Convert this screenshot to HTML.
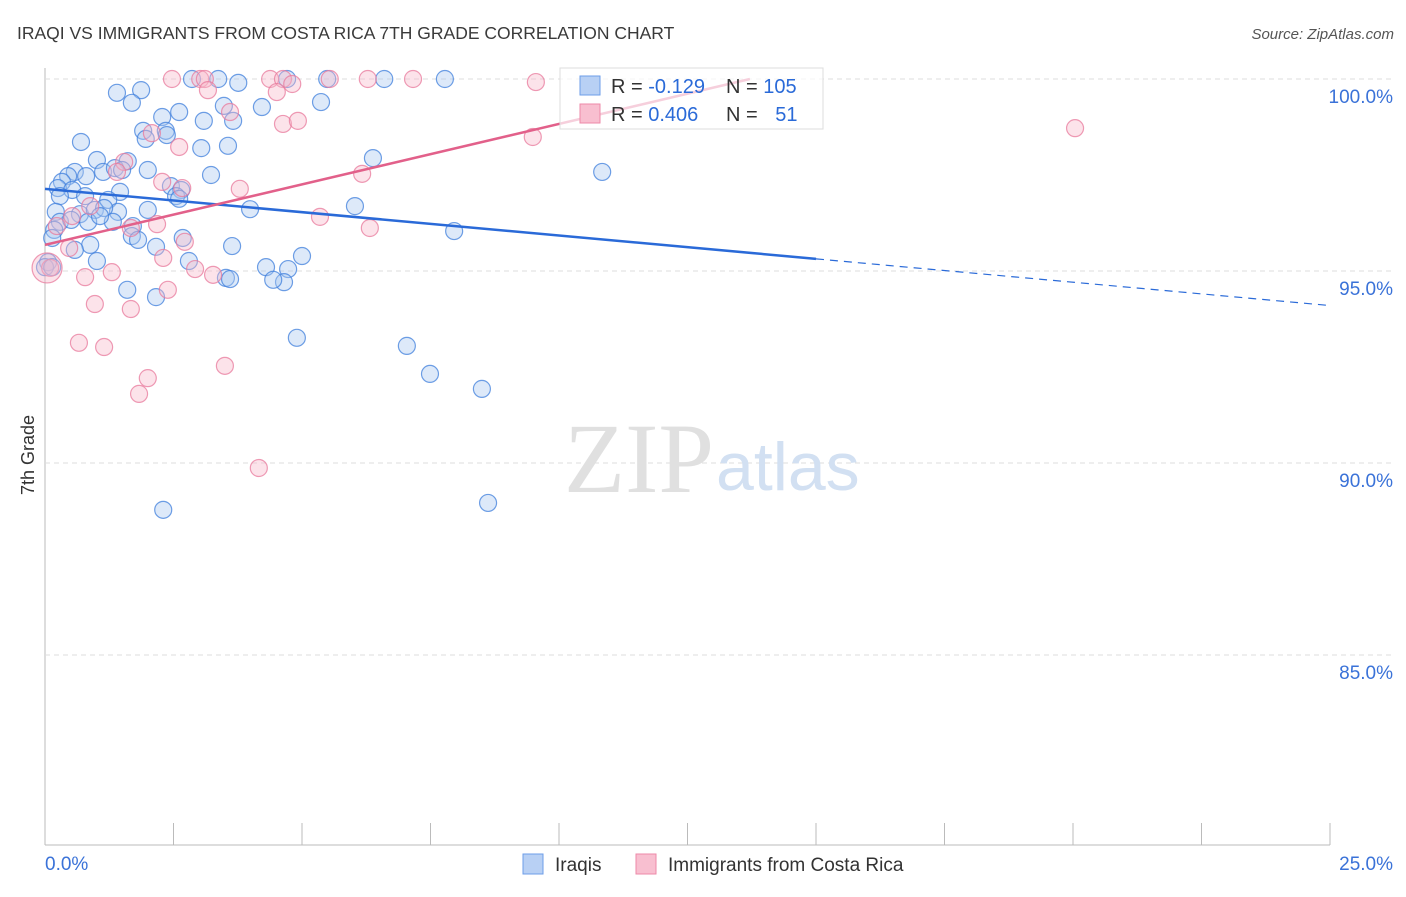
<!DOCTYPE html>
<html><head><meta charset="utf-8"><style>
body{margin:0;background:#fff;font-family:"Liberation Sans",sans-serif}
svg text{font-family:"Liberation Sans",sans-serif}
</style></head><body>
<svg id="chart" width="1406" height="892">
<text x="17" y="39" font-size="17.5" fill="#3a3a3a">IRAQI VS IMMIGRANTS FROM COSTA RICA 7TH GRADE CORRELATION CHART</text>
<text x="1394" y="39" font-size="15" fill="#555" text-anchor="end" font-style="italic">Source: ZipAtlas.com</text>
<text x="34" y="455" font-size="18" fill="#333" transform="rotate(-90 34 455)" text-anchor="middle">7th Grade</text>
<g id="grid"></g>
<text x="714" y="492" font-size="100" fill="#e0e0e0" text-anchor="end" style="font-family:'Liberation Serif',serif">ZIP</text>
<text x="716" y="490" font-size="68" fill="#d2e0f2">atlas</text>
<g id="pts"></g>
<g id="lines"></g>
<g>
<rect x="560" y="68" width="263" height="61" fill="#fff" fill-opacity="0.7" stroke="#ddd"/>
<rect x="580" y="76" width="20" height="19" fill="#b8d0f4" stroke="#6d9ee8"/>
<rect x="580" y="104" width="20" height="19" fill="#f8bfd0" stroke="#ee8aa8"/>
<text x="611" y="93" font-size="20" fill="#333">R = <tspan fill="#2a6ad8">-0.129</tspan></text>
<text x="726" y="93" font-size="20" fill="#333">N = <tspan fill="#2a6ad8">105</tspan></text>
<text x="611" y="121" font-size="20" fill="#333">R = <tspan fill="#2a6ad8">0.406</tspan></text>
<text x="726" y="121" font-size="20" fill="#333">N = <tspan fill="#2a6ad8" dx="12">51</tspan></text>
</g>
<g>
<rect x="523" y="854" width="20" height="20" fill="#b8d0f4" stroke="#6d9ee8"/>
<text x="555" y="871" font-size="19" fill="#333">Iraqis</text>
<rect x="636" y="854" width="20" height="20" fill="#f8bfd0" stroke="#ee8aa8"/>
<text x="668" y="871" font-size="19" fill="#333">Immigrants from Costa Rica</text>
</g>
</svg>
<script>
const xTicks=[0,2.5,5,7.5,10,12.5,15,17.5,20,22.5,25];
const yTicks=[100,95,90,85];
const yTickLabels=["100.0%","95.0%","90.0%","85.0%"];
const blueX=[2.86,3.37,3.76,4.71,5.49,6.60,7.78,1.40,1.87,1.69,2.61,3.48,4.22,5.37,2.28,3.09,3.66,1.91,2.35,2.37,1.96,0.70,3.04,3.56,6.38,1.01,1.61,0.58,1.13,1.36,2.00,10.84,0.45,0.33,0.80,3.23,0.25,0.53,1.46,2.45,2.65,2.55,2.61,0.29,0.78,1.23,3.99,6.03,0.21,0.68,0.97,1.42,2.00,1.15,0.29,0.84,1.32,1.71,0.18,1.69,1.81,2.68,7.96,0.14,0.88,0.58,2.16,3.64,0.06,1.01,2.80,4.30,5.00,4.73,4.65,4.44,3.52,3.60,1.60,2.16,4.90,7.04,7.49,8.50,2.30,8.62,0.0,0.14,0.51,1.50,1.07];
const blueY=[100,100,99.9,100,100,100,100,99.64,99.71,99.38,99.14,99.30,99.27,99.40,99.01,98.91,98.91,98.65,98.65,98.54,98.44,98.36,98.20,98.26,97.94,97.89,97.86,97.58,97.58,97.68,97.63,97.58,97.47,97.32,97.47,97.50,97.16,97.11,97.06,97.21,97.11,96.95,96.88,96.95,96.95,96.85,96.61,96.69,96.54,96.48,96.59,96.54,96.59,96.64,96.28,96.28,96.28,96.17,96.07,95.91,95.81,95.86,96.04,95.86,95.68,95.55,95.63,95.65,95.23,95.26,95.26,95.10,95.39,95.05,94.71,94.77,94.82,94.79,94.51,94.32,93.26,93.05,92.32,91.93,88.78,88.96,95.10,95.10,96.33,97.63,96.43];
const pinkX=[2.47,3.02,3.11,4.38,4.63,5.54,6.28,7.16,9.55,3.17,4.51,4.81,3.60,4.63,4.92,2.08,2.61,9.49,20.04,1.54,1.40,2.28,3.79,6.17,2.67,0.88,0.53,0.23,2.18,6.32,5.35,1.67,2.72,0.47,2.30,2.92,3.27,1.30,0.78,2.39,0.97,1.67,0.66,1.15,3.50,2.00,1.83,4.16,0.1,0.04];
const pinkY=[100,100,100,100,100,100,100,100,99.92,99.71,99.66,99.87,99.14,98.83,98.91,98.59,98.23,98.49,98.72,97.84,97.58,97.32,97.14,97.53,97.16,96.69,96.43,96.17,96.22,96.12,96.41,96.12,95.76,95.60,95.34,95.05,94.90,94.97,94.84,94.51,94.14,94.01,93.13,93.02,92.53,92.21,91.80,89.87,95.08,95.08];
const blueTrend=[97.14,-0.1216];
const pinkTrend=[95.68,0.315];
const NS="http://www.w3.org/2000/svg";
const X=v=>45+v*(1285/25);
const Y=v=>79+(100-v)*38.4;
function mk(t,a,p){const e=document.createElementNS(NS,t);for(const k in a)e.setAttribute(k,a[k]);document.getElementById(p).appendChild(e);return e;}
mk('line',{x1:45,y1:68,x2:45,y2:845,stroke:'#bbb'},'grid');
mk('line',{x1:45,y1:845,x2:1330,y2:845,stroke:'#bbb'},'grid');
yTicks.forEach((v,i)=>{
 const l=mk('line',{x1:45,y1:Y(v),x2:1392,y2:Y(v),stroke:'#ddd','stroke-dasharray':'5,4'},'grid');
 
 
 const t=mk('text',{x:1393,y:Y(v)+24,'font-size':19,fill:'#3a72d8','text-anchor':'end'},'grid');
 t.textContent=yTickLabels[i];
 
 
});
xTicks.forEach(v=>{
 const l=mk('line',{x1:X(v),y1:823,x2:X(v),y2:845,stroke:'#bbb'},'grid');
 
 
});
let t=mk('text',{x:45,y:870,'font-size':19,fill:'#3a72d8'},'grid');t.textContent='0.0%';


t=mk('text',{x:1393,y:870,'font-size':19,fill:'#3a72d8','text-anchor':'end'},'grid');t.textContent='25.0%';


function pts(xs,ys,fill,stroke,name){xs.forEach((x,i)=>{
 const big=(name==='point-costa-rica'&&i===xs.length-1);
 const c=mk('circle',{cx:X(x),cy:Y(ys[i]),r:big?15:8.5,fill:fill,'fill-opacity':0.4,stroke:stroke,'stroke-opacity':0.75,'stroke-width':1.2},'pts');
 
 
});}
pts(blueX,blueY,'#a9c8f0','#3f7fdc','point-iraqis');
pts(pinkX,pinkY,'#f7b8cb','#e8799c','point-costa-rica');
let ln=mk('line',{x1:X(0),y1:Y(blueTrend[0]),x2:X(15),y2:Y(blueTrend[0]+15*blueTrend[1]),stroke:'#2a6ad8','stroke-width':2.5},'lines');


ln=mk('line',{x1:X(15),y1:Y(blueTrend[0]+15*blueTrend[1]),x2:X(25),y2:Y(blueTrend[0]+25*blueTrend[1]),stroke:'#2a6ad8','stroke-width':1.2,'stroke-dasharray':'8,6'},'lines');


const pe=(100-pinkTrend[0])/pinkTrend[1];
ln=mk('line',{x1:X(0),y1:Y(pinkTrend[0]),x2:X(pe),y2:Y(100),stroke:'#e2608a','stroke-width':2.5},'lines');


</script>
</body></html>
